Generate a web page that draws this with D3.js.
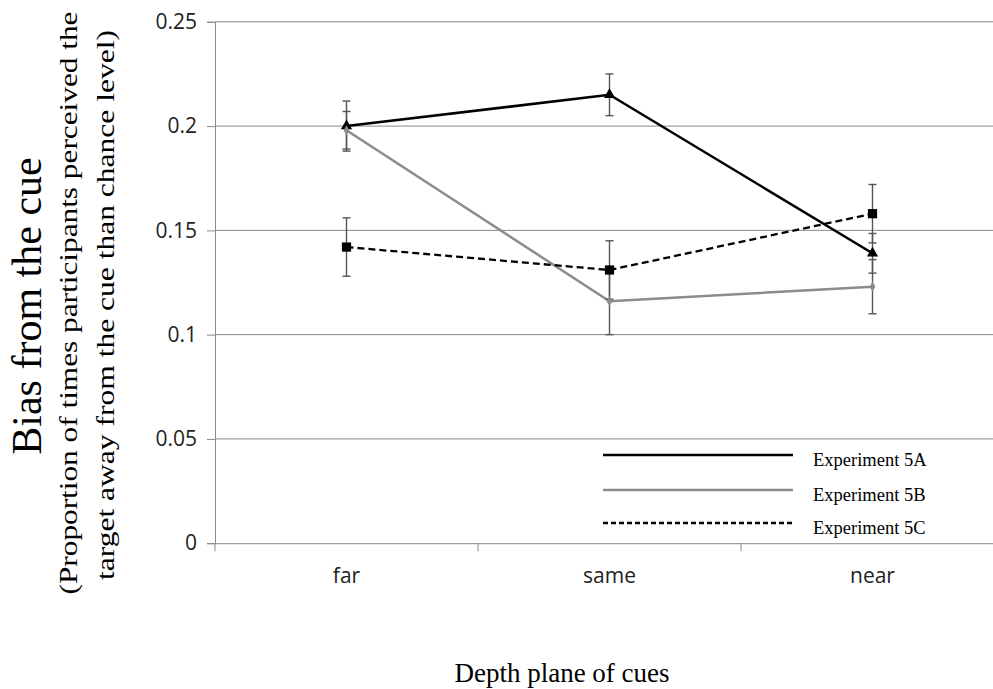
<!DOCTYPE html>
<html>
<head>
<meta charset="utf-8">
<script src="https://cdn.jsdelivr.net/npm/d3@7"></script>
<style>
  body { margin: 0; background: #fff; }
  svg { display: block; }
</style>
</head>
<body>
<div id="chart"></div>
<script>
// categories and values
const categories = ["far", "same", "near"];
const exp5A = [0.200, 0.215, 0.139];
const exp5B = [0.198, 0.116, 0.123];
const exp5C = [0.142, 0.131, 0.158];
const err5A = [0.012, 0.010, 0.0095];
const err5B = [0.009, 0.016, 0.013];
const err5C = [0.014, 0.014, 0.014];
const yTicks = [0, 0.05, 0.1, 0.15, 0.2, 0.25];

const series = [
    { name: "Experiment 5A", values: exp5A, errors: err5A, color: "#000", dash: null, width: 2.5, marker: "triangle" },
    { name: "Experiment 5B", values: exp5B, errors: err5B, color: "#8c8c8c", dash: null, width: 2.5, marker: "diamond" },
    { name: "Experiment 5C", values: exp5C, errors: err5C, color: "#000", dash: "7,4", width: 2.3, marker: "square" }
];

const width = 993, height = 689;
const plotLeft = 215, plotRight = 1004, plotTop = 21.8, plotBottom = 543.2;
const serif = "'Liberation Serif', 'Times New Roman', serif";
const sans = "'Open Sans', sans-serif";

const svg = d3.select("#chart").append("svg")
    .attr("width", width)
    .attr("height", height);

const x = d3.scaleBand().domain(categories).range([plotLeft, plotRight]);
const y = d3.scaleLinear().domain([0, 0.25]).range([plotBottom, plotTop]);
const cx = c => x(c) + x.bandwidth() / 2;

// gridlines
svg.append("g")
    .selectAll("line")
    .data(yTicks.filter(t => t > 0))
    .enter()
    .append("line")
    .attr("x1", plotLeft).attr("x2", plotRight)
    .attr("y1", d => y(d)).attr("y2", d => y(d))
    .attr("stroke", "#8a8a8a").attr("stroke-width", 1);

// y axis
const yAxis = svg.append("g")
    .attr("transform", `translate(${plotLeft},0)`)
    .call(d3.axisLeft(y).tickValues(yTicks).tickSize(8).tickPadding(10).tickFormat(d => String(d)));
yAxis.select(".domain").attr("stroke", "#8a8a8a");
yAxis.selectAll(".tick line").attr("stroke", "#8a8a8a");
yAxis.selectAll("text")
    .attr("font-family", sans)
    .attr("font-size", 21)
    .attr("fill", "#222");

// x axis
const xAxis = svg.append("g")
    .attr("transform", `translate(0,${plotBottom})`)
    .call(d3.axisBottom(x).tickSize(0).tickPadding(25));
xAxis.select(".domain").attr("stroke", "#8a8a8a");
xAxis.selectAll("text")
    .attr("font-family", sans)
    .attr("font-size", 21)
    .attr("fill", "#222");
// band boundary ticks
xAxis.selectAll(".bound")
    .data([plotLeft, ...categories.map(c => x(c) + x.bandwidth())])
    .enter()
    .append("line")
    .attr("x1", d => d).attr("x2", d => d)
    .attr("y1", 0).attr("y2", 8)
    .attr("stroke", "#8a8a8a");

// lines
const line = d3.line().x((d, i) => cx(categories[i])).y(d => y(d));
series.forEach(s => {
    svg.append("path")
        .datum(s.values)
        .attr("d", line)
        .attr("fill", "none")
        .attr("stroke", s.color)
        .attr("stroke-width", s.width)
        .attr("stroke-dasharray", s.dash);
});

// error bars
series.forEach(s => {
    const g = svg.append("g");
    s.values.forEach((v, i) => {
        const px = cx(categories[i]);
        const hi = y(v + s.errors[i]), lo = y(v - s.errors[i]);
        g.append("line").attr("x1", px).attr("x2", px).attr("y1", hi).attr("y2", lo)
            .attr("stroke", "#555").attr("stroke-width", 1.4);
        [hi, lo].forEach(yy => {
            g.append("line").attr("x1", px - 4).attr("x2", px + 4).attr("y1", yy).attr("y2", yy)
                .attr("stroke", "#555").attr("stroke-width", 1.4);
        });
    });
});

// markers
const symbolType = { triangle: d3.symbolTriangle, diamond: d3.symbolDiamond, square: d3.symbolSquare };
const symbolSize = { triangle: 55, diamond: 30, square: 85 };
series.forEach(s => {
    svg.append("g")
        .selectAll("path")
        .data(s.values)
        .enter()
        .append("path")
        .attr("transform", (d, i) => `translate(${cx(categories[i])},${y(d)})`)
        .attr("d", d3.symbol().type(symbolType[s.marker]).size(symbolSize[s.marker]))
        .attr("fill", s.color);
});

// legend
const legendRows = [455, 490, 523];
const legend = svg.append("g");
series.forEach((s, i) => {
    const ly = legendRows[i];
    legend.append("line")
        .attr("x1", 603).attr("x2", 793)
        .attr("y1", ly).attr("y2", ly)
        .attr("stroke", s.color)
        .attr("stroke-width", s.width)
        .attr("stroke-dasharray", s.dash ? "5,3" : null);
    legend.append("text")
        .attr("x", 813).attr("y", ly + 11)
        .attr("font-family", serif)
        .attr("font-size", 18.5)
        .attr("fill", "#000")
        .text(s.name);
});

// axis titles
svg.append("text")
    .attr("transform", "translate(41,306) rotate(-90)")
    .attr("text-anchor", "middle")
    .attr("font-family", serif)
    .attr("font-size", 42)
    .text("Bias from the cue");
svg.append("text")
    .attr("transform", "translate(77,303) rotate(-90)")
    .attr("text-anchor", "middle")
    .attr("font-family", serif)
    .attr("font-size", 26)
    .attr("textLength", 583)
    .attr("lengthAdjust", "spacingAndGlyphs")
    .text("(Proportion of times participants perceived the");
svg.append("text")
    .attr("transform", "translate(114,305) rotate(-90)")
    .attr("text-anchor", "middle")
    .attr("font-family", serif)
    .attr("font-size", 26)
    .attr("textLength", 550)
    .attr("lengthAdjust", "spacingAndGlyphs")
    .text("target away from the cue than chance level)");
svg.append("text")
    .attr("x", 562).attr("y", 682)
    .attr("text-anchor", "middle")
    .attr("font-family", serif)
    .attr("font-size", 27)
    .text("Depth plane of cues");
</script>
</body>
</html>
